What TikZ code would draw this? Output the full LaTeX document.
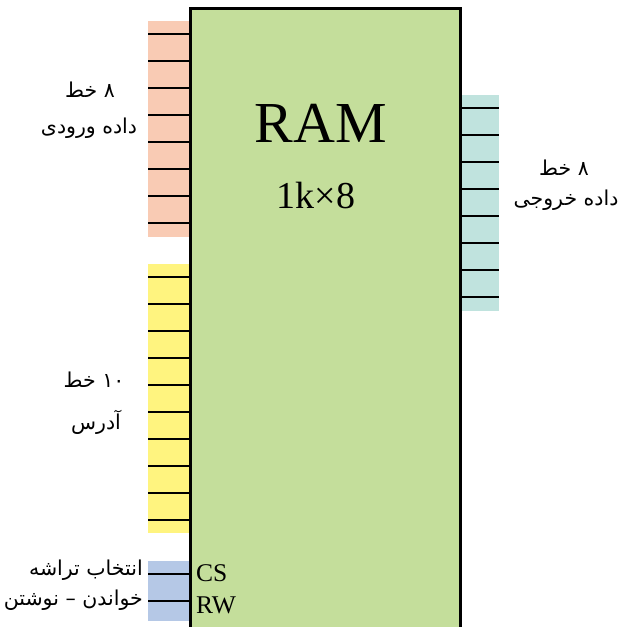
\documentclass[tikz,border=0pt]{standalone}
\usepackage{fontspec}
\setmainfont{Liberation Serif}
\newfontfamily\farsi[Script=Arabic]{DejaVu Sans}
\TeXXeTstate=1
\usetikzlibrary{positioning}
\definecolor{cGreen}{HTML}{C4DE9B}
\definecolor{cPink}{HTML}{F9CBB4}
\definecolor{cYellow}{HTML}{FFF47F}
\definecolor{cBlue}{HTML}{B5C8E6}
\definecolor{cAqua}{HTML}{C0E3DE}
\tikzset{
  blk/.style={draw=black,line width=2.8pt,fill=cGreen,inner sep=0pt,anchor=north west},
  strip/.style={draw=none,inner sep=0pt,anchor=north west,minimum width=41pt},
  pinln/.style={line width=2.3pt,black},
  fa/.style={font=\farsi\fontsize{20.5}{24}\selectfont,inner sep=0pt},
  pinlbl/.style={font=\fontsize{25.5}{28}\selectfont,inner sep=0pt},
}

\begin{document}
\begin{tikzpicture}[x=1pt,y=-1pt]
  \useasboundingbox (0,0) rectangle (621,627);
  % pin strips
  \node[strip,fill=cPink,minimum height=216pt] (din) at (148,21) {};
  \node[strip,fill=cYellow,minimum height=269pt] (adr) at (148,264) {};
  \node[strip,fill=cBlue,minimum height=60pt] (ctl) at (148,561) {};
  \node[strip,fill=cAqua,minimum width=40pt,minimum height=216pt] (dout) at (459,95) {};
  % chip
  \node[blk,minimum width=270pt,minimum height=621pt] (ram) at (189,7) {};
  \node[font=\fontsize{58}{60}\selectfont] (name) at (321,123) {RAM};
  \node[font=\fontsize{38}{40}\selectfont] (size) at (316,195) {1k×8};
  % pins
  \foreach \y in {34,61,...,223} \draw[pinln] (din.west |- 0,\y) -- (ram.west |- 0,\y);
  \foreach \y in {277,304,...,520} \draw[pinln] (adr.west |- 0,\y) -- (ram.west |- 0,\y);
  \foreach \y in {574,601} \draw[pinln] (ctl.west |- 0,\y) -- (ram.west |- 0,\y);
  \foreach \y in {108,135,...,297} \draw[pinln] (ram.east |- 0,\y) -- (dout.east |- 0,\y);
  % labels
  \node[fa] (dinA) at (90,90) {\beginR ۸ خط\endR};
  \node[fa] (dinB) at (89,128) {\beginR داده ورودی\endR};
  \node[fa] (adrA) at (94,380) {\beginR ۱۰ خط\endR};
  \node[fa] (adrB) at (96,422) {\beginR آدرس\endR};
  \node[fa] (doutA) at (564,168) {\beginR ۸ خط\endR};
  \node[fa] (doutB) at (566,200) {\beginR داده خروجی\endR};
  \node[fa,anchor=east] (csA) at (143,570) {\beginR انتخاب تراشه\endR};
  \node[fa,anchor=east] (rwA) at (143,600) {\beginR خواندن – نوشتن\endR};
  \node[pinlbl,anchor=west] (cs) at (196,573) {CS};
  \node[pinlbl,anchor=west] (rw) at (196,605) {RW};
\end{tikzpicture}
\end{document}
